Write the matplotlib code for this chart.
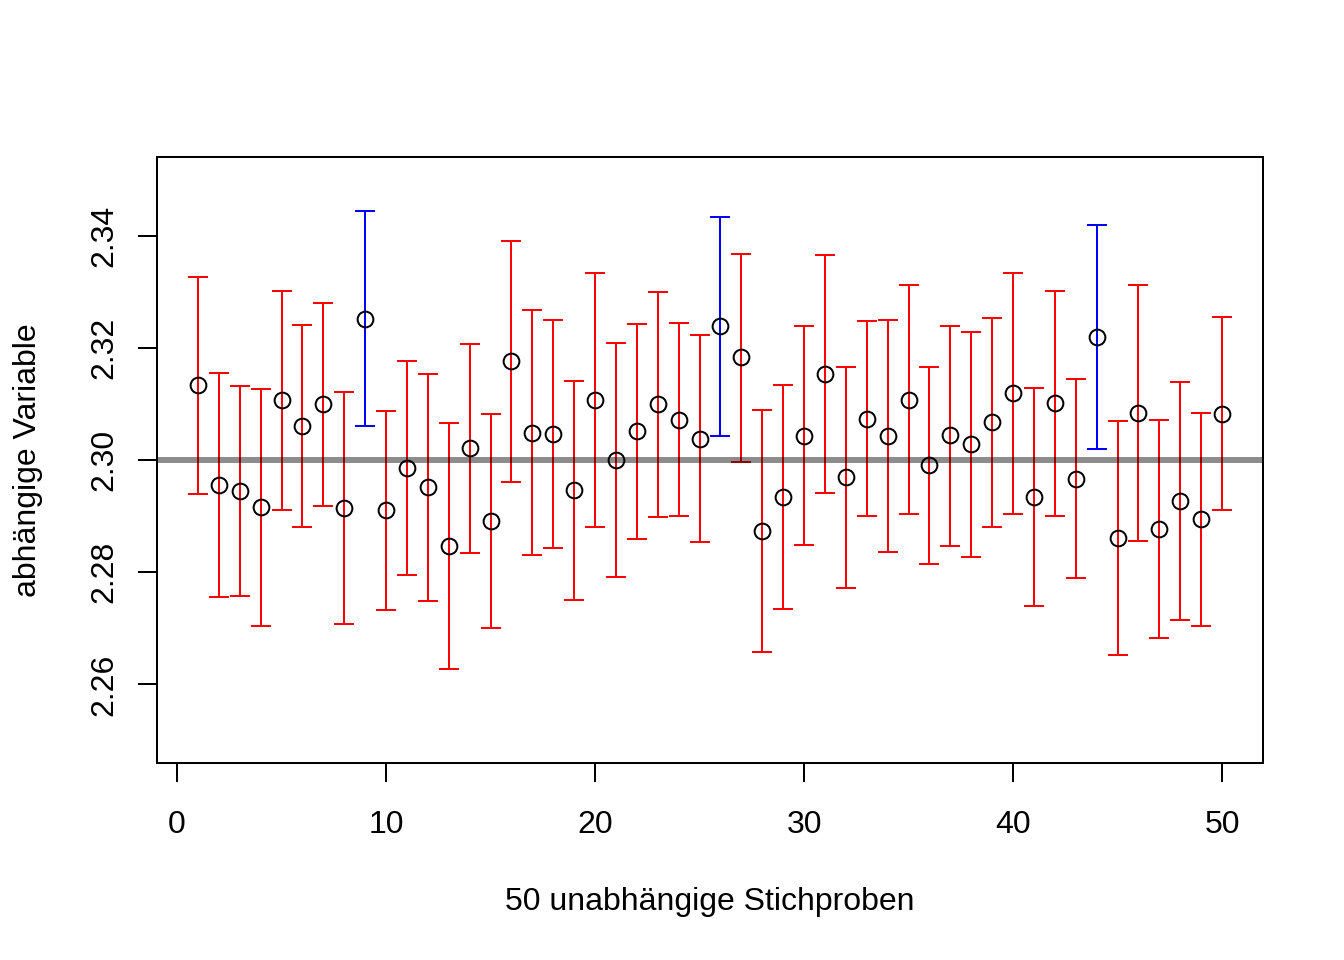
import matplotlib
matplotlib.use("Agg")
import matplotlib.pyplot as plt
import numpy as np

plt.rcParams['font.family'] = ['Liberation Sans', 'DejaVu Sans']

sample_ids = list(range(1, 51))
means = [2.3133, 2.2956, 2.2945, 2.2916, 2.3107, 2.3060, 2.3099, 2.2915, 2.3252, 2.2911,
         2.2985, 2.2951, 2.2847, 2.3021, 2.2891, 2.3176, 2.3049, 2.3047, 2.2946, 2.3107,
         2.3000, 2.3051, 2.3100, 2.3072, 2.3038, 2.3238, 2.3183, 2.2873, 2.2934, 2.3043,
         2.3153, 2.2969, 2.3073, 2.3043, 2.3107, 2.2991, 2.3044, 2.3028, 2.3067, 2.3119,
         2.2934, 2.3101, 2.2967, 2.3219, 2.2861, 2.3084, 2.2877, 2.2927, 2.2895, 2.3082]
uppers = [2.3327, 2.3155, 2.3131, 2.3127, 2.3302, 2.3241, 2.3280, 2.3122, 2.3444, 2.3088,
          2.3176, 2.3153, 2.3066, 2.3207, 2.3082, 2.3391, 2.3267, 2.3250, 2.3141, 2.3334,
          2.3208, 2.3243, 2.3299, 2.3245, 2.3222, 2.3433, 2.3367, 2.3089, 2.3133, 2.3238,
          2.3366, 2.3165, 2.3247, 2.3250, 2.3311, 2.3166, 2.3239, 2.3228, 2.3253, 2.3334,
          2.3129, 2.3302, 2.3145, 2.3419, 2.3070, 2.3311, 2.3072, 2.3139, 2.3084, 2.3254]
lowers = [2.2939, 2.2755, 2.2758, 2.2705, 2.2911, 2.2880, 2.2918, 2.2707, 2.3061, 2.2732,
          2.2795, 2.2749, 2.2627, 2.2835, 2.2701, 2.2961, 2.2830, 2.2844, 2.2751, 2.2881,
          2.2791, 2.2860, 2.2899, 2.2900, 2.2854, 2.3042, 2.2996, 2.2657, 2.2734, 2.2849,
          2.2941, 2.2772, 2.2900, 2.2836, 2.2903, 2.2814, 2.2847, 2.2827, 2.2881, 2.2903,
          2.2739, 2.2901, 2.2790, 2.3020, 2.2652, 2.2856, 2.2682, 2.2714, 2.2704, 2.2911]
true_value = 2.30
x_ticks = [0, 10, 20, 30, 40, 50]
y_ticks = [2.26, 2.28, 2.30, 2.32, 2.34]
y_ticklabels = ["2.26", "2.28", "2.30", "2.32", "2.34"]
x_label = "50 unabhängige Stichproben"
y_label = "abhängige Variable"

x = np.array(sample_ids)
m = np.array(means)
lo = np.array(lowers)
hi = np.array(uppers)
miss = (lo > true_value) | (hi < true_value)

W, H = 1344, 960
fig = plt.figure(figsize=(7, 5), dpi=192)
ax = fig.add_axes([157 / W, 1 - 763 / H, (1263 - 157) / W, (763 - 157) / H])

for mask, col in [(~miss, 'red'), (miss, 'blue')]:
    ax.errorbar(x[mask], m[mask], yerr=[m[mask] - lo[mask], hi[mask] - m[mask]],
                fmt='none', ecolor=col, elinewidth=0.75, capsize=3.6, capthick=0.75, zorder=2)

ax.plot(x, m, linestyle='none', marker='o', markersize=5.9, markerfacecolor='none',
        markeredgecolor='black', markeredgewidth=0.75, zorder=3)

ax.axhline(true_value, color='black', alpha=0.45, lw=2.25, zorder=4)

ax.set_xlim(-0.96, 51.96)
ax.set_ylim(2.246, 2.354)
ax.set_xticks(x_ticks)
ax.set_xticklabels([str(t) for t in x_ticks])
ax.set_yticks(y_ticks)
ax.set_yticklabels(y_ticklabels, rotation=90, va='center')

ax.tick_params(axis='both', direction='out', length=7.2, width=0.75, labelsize=12, colors='black')
ax.tick_params(axis='x', pad=10.5)
ax.tick_params(axis='y', pad=7)
for s in ax.spines.values():
    s.set_linewidth(0.75)

fig.text((157 + 1263) / 2 / W, 1 - 910 / H, x_label, ha='center', va='baseline', fontsize=12)
fig.text(28 / W, 1 - 460 / H, y_label, ha='center', va='center', rotation=90, fontsize=12)

fig.savefig("out.png", dpi=192)
